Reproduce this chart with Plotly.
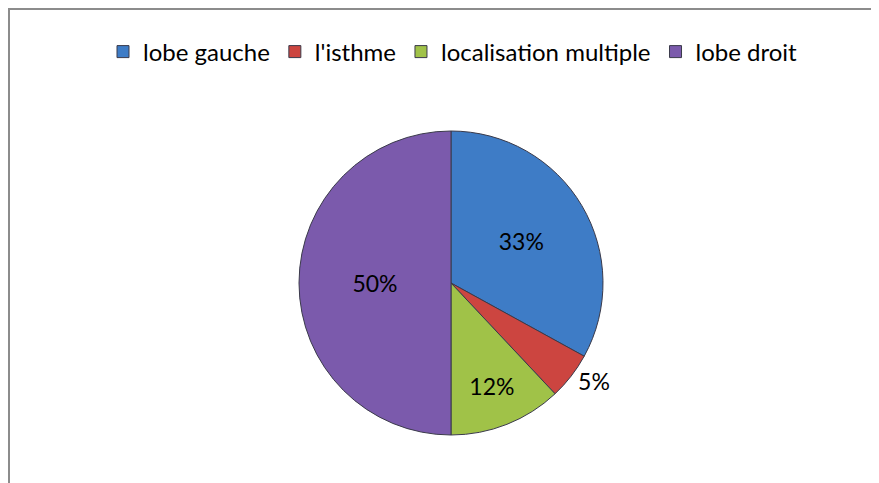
import plotly.graph_objects as go

labels = ["lobe gauche", "l'isthme", "localisation multiple", "lobe droit"]
values = [33, 5, 12, 50]
colors = ["#3E7CC6", "#CC4540", "#A0C248", "#7B5AAC"]
text_positions = ["inside", "outside", "inside", "inside"]

W, H = 879, 483
FONT = "Lato, Carlito, sans-serif"

fig = go.Figure()
fig.add_trace(go.Pie(
    labels=labels,
    values=values,
    sort=False,
    direction="clockwise",
    rotation=0,
    marker=dict(colors=colors, line=dict(color="#3a3a4a", width=1)),
    textinfo="percent",
    texttemplate="%{percent:.0%}",
    textposition=text_positions,
    textfont=dict(family=FONT, size=23, color="#000000"),
    insidetextorientation="horizontal",
    domain=dict(x=[291 / W, 595 / W], y=[56 / H, 360 / H]),
    showlegend=True,
))

fig.update_layout(
    width=W, height=H,
    margin=dict(l=0, r=0, t=0, b=0),
    paper_bgcolor="white",
    plot_bgcolor="white",
    font=dict(family=FONT, size=24, color="#000000"),
    legend=dict(
        orientation="h",
        x=445 / W, xanchor="center",
        y=1 - 44 / H, yanchor="middle",
        font=dict(family=FONT, size=24, color="#000000"),
        traceorder="normal",
    ),
    shapes=[dict(
        type="rect", xref="paper", yref="paper",
        x0=1 / W, x1=1.05, y0=-0.05, y1=1 - 1 / H,
        line=dict(color="#8c8c8c", width=2),
        fillcolor="rgba(0,0,0,0)",
        layer="below",
    )],
)

fig.write_html("out.html")
